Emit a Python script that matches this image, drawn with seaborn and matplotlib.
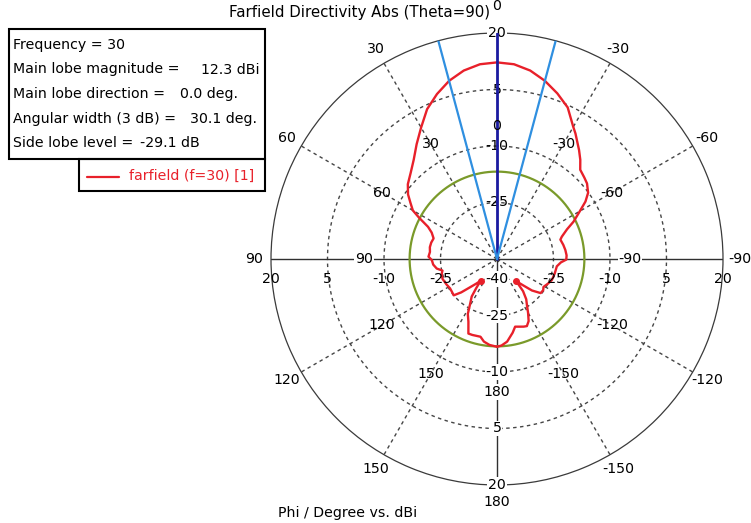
import numpy as np
import pandas as pd
import matplotlib
matplotlib.use("Agg")
import matplotlib.pyplot as plt
from matplotlib.patches import Rectangle
import seaborn as sns

# Farfield cut (Theta=90): phi in degrees, directivity in dBi
phi_deg = [-180, -177, -173, -168, -165, -161, -158.5, -156, -153, -150, -147, -144,
           -141, -139, -135, -132, -128, -124, -121, -116, -111, -104, -97, -93,
           -90.5, -87, -82.5, -78, -73, -71, -67, -64, -60, -57, -54, -50, -47, -43,
           -40, -37, -32, -30, -25, -20, -15, -10, -5, 0,
           5, 10, 15, 20, 25, 30, 35, 40, 45, 50, 54, 57, 60, 62, 65, 68, 72, 76,
           80, 84, 88, 91, 95, 99, 102, 105, 110, 117, 122, 126, 130, 133, 136, 140,
           143, 144.5, 146, 149.5, 152, 155.5, 159, 162, 168, 171, 175, 180]
gain_dbi = [-16.7, -17.0, -17.9, -20.0, -21.4, -21.0, -20.7, -20.5, -21.5, -23.5, -25.4, -26.8,
            -29.0, -32.2, -30.0, -27.5, -25.3, -25.2, -25.6, -25.0, -24.4, -24.2, -24.0, -23.0,
            -21.6, -21.5, -21.7, -22.0, -22.4, -21.8, -19.8, -17.4, -14.6, -12.0, -10.1, -8.8, -8.3, -7.6,
            -5.6, -3.8, -0.7, 0.5, 4.4, 6.8, 9.0, 10.8, 11.9, 12.2,
            11.9, 10.8, 9.0, 6.6, 3.9, 0.3, -2.8, -5.6, -7.6, -9.1, -10.8, -12.6, -14.2, -16.5, -19.8, -21.3, -22.3, -22.0,
            -21.9, -22.1, -21.8, -22.7, -23.0, -23.8, -25.2, -24.8, -24.6, -25.0, -25.3, -25.2, -25.0, -27.0, -29.4, -31.5,
            -32.8, -30.5, -28.0, -25.8, -23.5, -21.7, -18.8, -18.8, -18.9, -17.8, -17.1, -16.7]

# spike tips marked with arrows in the original
tip_phi = [143, -139]
tip_gain = [-32.8, -32.2]

# summary values
main_lobe = 12.3
main_dir = 0.0
width_3db = 30.1
side_lobe = -29.1

r_min, r_max = -40, 20
rings = [-25, -10, 5, 20]
angle_labels = [0, 30, 60, 90, 120, 150, 180, -150, -120, -90, -60, -30]

W, H = 751, 523
def fx(x):
    return x / W
def fy(y):
    return 1 - y / H

sns.set_style("white")
plt.rcParams['font.family'] = ['DejaVu Sans']
plt.rcParams['text.color'] = 'black'
fs = 10.2

fig = plt.figure(figsize=(W / 100, H / 100), dpi=100)
cx, cy, rad = 497, 259, 226
ax = fig.add_axes([fx(cx - rad), fy(cy + rad), 2 * rad / W, 2 * rad / H], projection='polar')
ax.set_theta_zero_location('N')
ax.set_theta_direction(1)
ax.set_rlim(r_min, r_max)
ax.set_xticks([])
ax.set_yticks([])
ax.grid(False)
ax.spines['polar'].set_color('#3a3a3a')
ax.spines['polar'].set_linewidth(0.9)

grid_col = '#454545'
tt = np.linspace(0, 2 * np.pi, 400)
for rr in rings[:-1]:
    ax.plot(tt, np.full_like(tt, rr), color=grid_col, lw=1.0, ls=(0, (2.5, 2.5)), zorder=1)
for a in [30, 60, 120, 150, -30, -60, -120, -150]:
    ax.plot([np.deg2rad(a)] * 2, [r_min, r_max], color=grid_col, lw=1.0, ls=(0, (2.5, 2.5)), zorder=1)
for a in [90, -90, 180]:
    ax.plot([np.deg2rad(a)] * 2, [r_min, r_max], color='#303030', lw=1.0, zorder=1)

# side lobe level circle
ax.plot(tt, np.full_like(tt, main_lobe + side_lobe), color='#7a9a2a', lw=1.6, zorder=2)

# pattern
df = pd.DataFrame({'phi': np.deg2rad(phi_deg), 'gain': gain_dbi})
sns.lineplot(data=df, x='phi', y='gain', sort=False, estimator=None, ax=ax,
             color='#e8202a', lw=1.7, zorder=4)
ax.plot(np.deg2rad(tip_phi), tip_gain, ls='none', marker='o', ms=4, color='#e8202a', zorder=5)
ax.set_xlabel('')
ax.set_ylabel('')

# main lobe direction and 3 dB width lines
ax.plot([np.deg2rad(main_dir)] * 2, [r_min, r_max], color='#1a1aa0', lw=2.0, zorder=6)
for s in [-1, 1]:
    ax.plot([np.deg2rad(main_dir + s * width_3db / 2)] * 2, [r_min, r_max], color='#2f8fe0', lw=1.6, zorder=6)

white = dict(facecolor='white', edgecolor='none', pad=0.5)

# angle labels outside and inside
for a in angle_labels:
    ro = 27.2 if a == 0 else 24.4
    ax.text(np.deg2rad(a), ro, str(a), ha='center', va='center', fontsize=fs, zorder=8)
    ax.text(np.deg2rad(a), -4.7, str(a), ha='center', va='center', fontsize=fs, zorder=8,
            bbox=white if a in (90, -90, 180) else None)

# radial labels along the horizontal axis
for a in [90, -90]:
    for rr in rings:
        ax.annotate(str(rr), xy=(np.deg2rad(a), rr), xytext=(0, -20), textcoords='offset pixels',
                    ha='center', va='center', fontsize=fs, zorder=8)
ax.annotate(str(r_min), xy=(0, r_min), xytext=(0, -20), textcoords='offset pixels',
            ha='center', va='center', fontsize=fs, zorder=8, bbox=white)

# radial labels along the vertical axis
for rr in rings:
    ax.text(0, rr, str(rr), ha='center', va='center', fontsize=fs, zorder=5,
            bbox=white if rr == r_max else None)
    ax.text(np.pi, rr, str(rr), ha='center', va='center', fontsize=fs, zorder=8, bbox=white)

fig.text(fx(360), fy(13), 'Farfield Directivity Abs (Theta=90)', ha='center', va='center', fontsize=10.8)
fig.text(fx(278), fy(513), 'Phi / Degree vs. dBi', ha='left', va='center', fontsize=fs)

# info box
fig.add_artist(Rectangle((fx(9), fy(159)), fx(256), 130 / H, transform=fig.transFigure,
                         fill=False, edgecolor='black', lw=1.5))
fig.add_artist(Rectangle((fx(79), fy(191)), fx(186), 32 / H, transform=fig.transFigure,
                         fill=False, edgecolor='black', lw=1.5))
info = [('Frequency = 30', None, None),
        ('Main lobe magnitude =', f'{main_lobe:.1f} dBi', 201),
        ('Main lobe direction =', f'{main_dir:.1f} deg.', 180),
        ('Angular width (3 dB) =', f'{width_3db:.1f} deg.', 190),
        ('Side lobe level =', f'{side_lobe:.1f} dB', 140)]
for i, (lab, val, xv) in enumerate(info):
    yy = 45 + i * 24.5
    fig.text(fx(13), fy(yy), lab, ha='left', va='center', fontsize=fs)
    if val:
        fig.text(fx(xv), fy(yy), val, ha='left', va='center', fontsize=fs)
fig.add_artist(plt.Line2D([fx(87), fx(119)], [fy(177), fy(177)], transform=fig.transFigure,
                          color='#e8202a', lw=1.6))
fig.text(fx(129), fy(176), 'farfield (f=30) [1]', ha='left', va='center', fontsize=fs, color='#e8202a')

fig.savefig('out.png', dpi=100)
